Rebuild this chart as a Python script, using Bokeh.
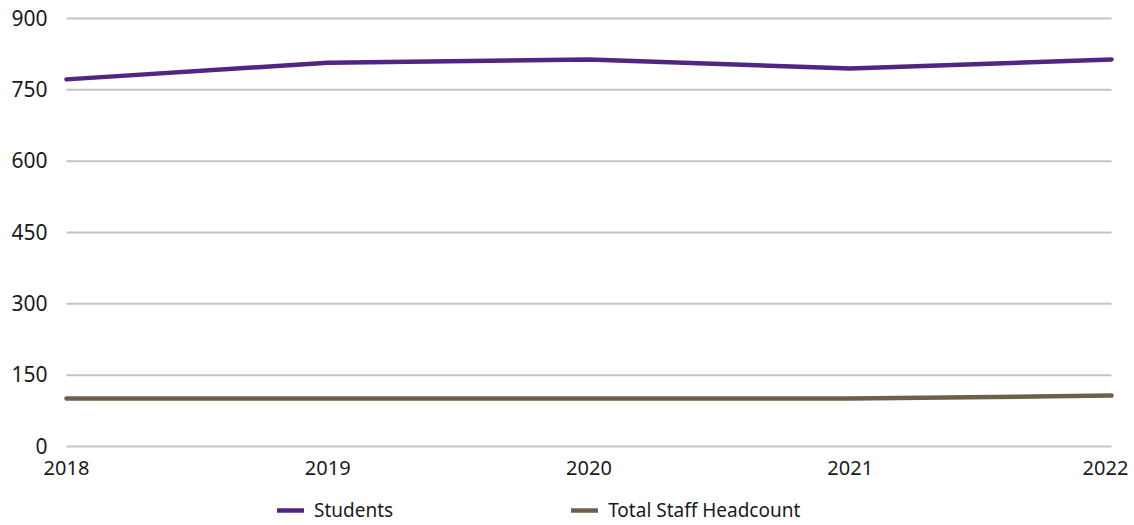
from bokeh.plotting import figure
from bokeh.models import Legend, LegendItem, Range1d
from bokeh.core.properties import value
from bokeh.embed import file_html
from bokeh.resources import INLINE

years = [2018, 2019, 2020, 2021, 2022]
year_labels = ["2018", "2019", "2020", "2021", "2022"]
students = [772, 807, 814, 795, 814]
staff = [101, 101, 101, 101, 107]
y_ticks = [0, 150, 300, 450, 600, 750, 900]
y_tick_labels = ["0", "150", "300", "450", "600", "750", "900"]

FONT = "Noto Sans"
TEXT_COLOR = "#1a1a1a"

W, H = 1134, 525
# pixel geometry of the plotting area: x 66..1111, y(900)=18, y(0)=446
px_per_year = (1111 - 66) / 4.0
x_left = years[0] - 66 / px_per_year
x_right = years[-1] + (W - 1111) / px_per_year
px_per_unit = (446 - 18) / 900.0
y_top = 900 + 18 / px_per_unit
y_bottom = -(H - 446) / px_per_unit

p = figure(width=W, height=H, output_backend="svg", toolbar_location=None,
           x_range=Range1d(x_left, x_right), y_range=Range1d(y_bottom, y_top),
           min_border=0)
p.outline_line_color = None
p.grid.visible = False
p.axis.visible = False

# horizontal gridlines
p.segment(x0=[years[0]] * len(y_ticks), x1=[years[-1]] * len(y_ticks), y0=y_ticks, y1=y_ticks,
          line_color="#c3c3c3", line_width=2)

r1 = p.line(years, students, line_color="#512683", line_width=4.5, line_cap="round", line_join="round")
r2 = p.line(years, staff, line_color="#6c604c", line_width=4.5, line_cap="round", line_join="round")

# x tick labels (last one nudged left so it stays inside the canvas)
x_label_shift = [0] * (len(years) - 1) + [-6]
p.text(x=years, y=[0] * len(years), text=year_labels, text_align="center", text_baseline="top",
       x_offset=x_label_shift, y_offset=14,
       text_font=value(FONT), text_font_size="20px", text_color=TEXT_COLOR)
# y tick labels
p.text(x=[years[0]] * len(y_ticks), y=y_ticks, text=y_tick_labels, text_align="right",
       text_baseline="middle", x_offset=-19, y_offset=-1,
       text_font=value(FONT), text_font_size="21px", text_color=TEXT_COLOR)

legend = Legend(items=[LegendItem(label="Students", renderers=[r1]),
                       LegendItem(label="Total Staff Headcount", renderers=[r2])],
                orientation="horizontal", location=(277, 2),
                padding=0, margin=0, spacing=178, glyph_width=27, label_standoff=10,
                border_line_color=None, background_fill_alpha=0,
                label_text_font=FONT, label_text_font_size="19px", label_text_color=TEXT_COLOR)
p.add_layout(legend, "center")

open("out.html", "w").write(file_html(p, INLINE))
